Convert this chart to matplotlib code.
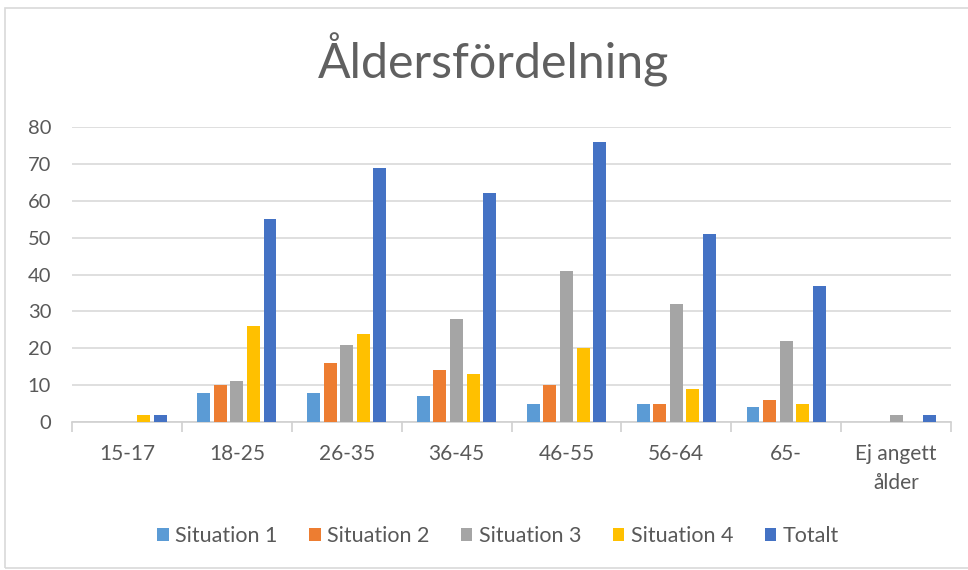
import matplotlib
matplotlib.use("Agg")
import matplotlib.pyplot as plt
from matplotlib.patches import Rectangle
import numpy as np

plt.rcParams['font.family'] = ['Lato', 'DejaVu Sans']

# data
categories = ['15-17', '18-25', '26-35', '36-45', '46-55', '56-64', '65-', 'Ej angett\nålder']
series_names = ['Situation 1', 'Situation 2', 'Situation 3', 'Situation 4', 'Totalt']
situation1 = [0, 8, 8, 7, 5, 5, 4, 0]
situation2 = [0, 10, 16, 14, 10, 5, 6, 0]
situation3 = [0, 11, 21, 28, 41, 32, 22, 2]
situation4 = [2, 26, 24, 13, 20, 9, 5, 0]
totalt = [2, 55, 69, 62, 76, 51, 37, 2]
colors = ['#5B9BD5', '#ED7D31', '#A5A5A5', '#FFC000', '#4472C4']

fig = plt.figure(figsize=(9.68, 5.70), dpi=100)
ax = fig.add_axes([72/968, 1 - 422/570, (951 - 72)/968, (422 - 127)/570])

# light frame around the whole chart, like the Excel chart area
fig.patches.append(Rectangle((5/968, 2/570), 1.0, 560/570, transform=fig.transFigure,
                             fill=False, edgecolor='#d9d9d9', linewidth=1.2))

x = np.arange(len(categories))
pitch = 0.151
width = 0.118
all_series = [situation1, situation2, situation3, situation4, totalt]
for i, (vals, name, c) in enumerate(zip(all_series, series_names, colors)):
    ax.bar(x + (i - 2) * pitch, vals, width, color=c, label=name, zorder=3)

ax.set_xlim(-0.5, len(categories) - 0.5)
ax.set_ylim(0, 80)
ax.set_yticks(range(0, 81, 10))
ax.yaxis.grid(True, color='#d9d9d9', linewidth=1.2, zorder=0)
ax.set_axisbelow(True)

for s in ['top', 'right', 'left']:
    ax.spines[s].set_visible(False)
ax.spines['bottom'].set_color('#d0d0d0')
ax.spines['bottom'].set_linewidth(1.2)

# category ticks sit between the groups
ax.set_xticks(np.arange(-0.5, len(categories)), minor=False)
ax.set_xticklabels([])
ax.set_xticks(x, minor=True)
ax.set_xticklabels(categories, minor=True, fontsize=15, color='#595959', linespacing=1.55)
ax.tick_params(axis='x', which='major', length=7, color='#d0d0d0', width=1.2)
ax.tick_params(axis='x', which='minor', length=0, pad=16)
ax.tick_params(axis='y', length=0, labelsize=14.5, labelcolor='#595959', pad=15)

fig.text(494/968, 1 - 60/570, 'Åldersfördelning', ha='center', va='center',
         fontsize=34.8, color='#606060')

handles, labels = ax.get_legend_handles_labels()
fig.legend(handles, labels, loc='center', bbox_to_anchor=(498/968, 1 - 536/570),
           ncol=5, frameon=False, fontsize=15.5, labelcolor='#595959',
           handlelength=0.55, handleheight=0.55, handletextpad=0.3, columnspacing=1.45)

fig.savefig('out.png', dpi=100)
